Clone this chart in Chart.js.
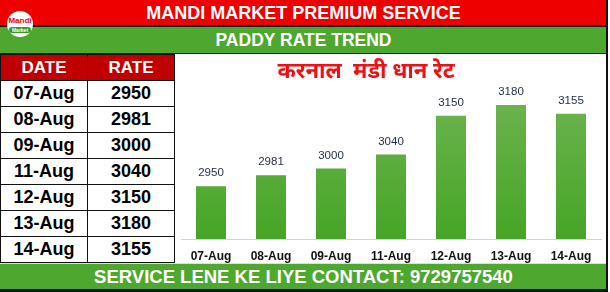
<!DOCTYPE html>
<html>
<head>
<meta charset="utf-8">
<script src="https://cdn.jsdelivr.net/npm/chart.js@4.4.1/dist/chart.umd.min.js"></script>
<style>
  html, body { margin:0; padding:0; background:#fff; }
  body { width:610px; height:292px; position:relative; overflow:hidden; font-family: Arial, "Liberation Sans", sans-serif; font-weight:bold; }
  .band { position:absolute; left:0; width:607px; color:#fff; text-align:center; font-size:18px; }
  #top  { top:0; height:25px; line-height:26px; background:#ee0000; border-bottom:2px solid #111; }
  #sub  { top:27px; height:26px; line-height:26px; background:#4ea72e; border-bottom:1px solid #222; font-size:17.5px; }
  #foot { top:263px; height:25px; line-height:25px; background:#4ea72e; border-top:1px solid #c6efce; border-bottom:3px solid #111; font-size:18.5px; }
  #logo { position:absolute; left:7px; top:11px; width:26px; height:26px; border-radius:50%; background:#fff; z-index:2;
          font-size:8px; color:#e00; text-align:center; line-height:9px; }
  #logo span { display:inline-block; margin-top:1px; background:#3a9a2a; color:#fff; font-size:5px; line-height:6px; padding:0 3px; border-radius:3px; }
  #logo b { display:block; margin-top:5px; }
  #rborder { position:absolute; left:606px; top:0; width:2px; height:292px; background:#111; }
  table { position:absolute; left:0; top:54px; border-collapse:collapse; }
  td, th { width:86px; height:25px; border:1px solid #111; text-align:center; padding:0; }
  th { background:#c00000; color:#fff; font-size:17px; }
  td { color:#000; font-size:18px; }
  #wrap { position:absolute; left:175px; top:54px; width:431px; height:209px; }
  #ctitle { position:absolute; left:216px; width:300px; top:58px; text-align:center; color:#ee1111; font-size:22px; line-height:30px;
            font-family: "Noto Sans Devanagari", "Lohit Devanagari", Mangal, sans-serif; font-weight:bold; white-space:pre; }
</style>
</head>
<body>
<div class="band" id="top">MANDI MARKET PREMIUM SERVICE</div>
<div class="band" id="sub">PADDY RATE TREND</div>
<div id="logo"><b>Mandi</b><span>Market</span></div>
<table id="rates"><thead><tr><th>DATE</th><th>RATE</th></tr></thead><tbody></tbody></table>
<div id="wrap"><canvas id="cv"></canvas></div>
<div id="ctitle"></div>
<div class="band" id="foot">SERVICE LENE KE LIYE CONTACT: 9729757540</div>
<div id="rborder"></div>
<script>
// ---------- Données ----------
const dates = ['07-Aug','08-Aug','09-Aug','11-Aug','12-Aug','13-Aug','14-Aug'];
const rates = [2950, 2981, 3000, 3040, 3150, 3180, 3155];
const chartTitle = 'करनाल  मंडी धान रेट';
const yMin = 2800, yMax = 3200;

document.getElementById('ctitle').textContent = chartTitle;

// ---------- Tableau ----------
const tbody = document.querySelector('#rates tbody');
dates.forEach((d, i) => {
  const tr = document.createElement('tr');
  tr.innerHTML = `<td>${d}</td><td>${rates[i]}</td>`;
  tbody.appendChild(tr);
});

// ---------- Étiquettes au-dessus des barres ----------
const valueLabels = {
  id: 'valueLabels',
  afterDatasetsDraw(chart) {
    const ctx = chart.ctx;
    const meta = chart.getDatasetMeta(0);
    ctx.save();
    ctx.font = '11.5px Arial';
    ctx.fillStyle = '#1f2a44';
    ctx.textAlign = 'center';
    ctx.textBaseline = 'middle';
    meta.data.forEach((bar, i) => ctx.fillText(String(rates[i]), bar.x, bar.y - 13));
    ctx.restore();
  }
};

// ---------- Graphique ----------
new Chart(document.getElementById('cv'), {
  type: 'bar',
  data: {
    labels: dates,
    datasets: [{
      data: rates,
      backgroundColor: (c) => {
        const a = c.chart.chartArea;
        if (!a) return '#4ea72e';
        const g = c.chart.ctx.createLinearGradient(0, a.top, 0, a.bottom);
        g.addColorStop(0, '#6cb34f');
        g.addColorStop(1, '#46a526');
        return g;
      },
      barPercentage: 0.5,
      categoryPercentage: 1
    }]
  },
  options: {
    responsive: true, maintainAspectRatio: false, animation: false,
    layout: { padding: { left: 6, right: 5, top: 44, bottom: 0 } },
    plugins: {
      legend: { display: false },
      tooltip: { enabled: false },
      title: { display: false }
    },
    scales: {
      y: { display: false, min: yMin, max: yMax },
      x: {
        afterFit: (s) => { s.height = 24; },
        grid: { display: false, drawTicks: false, tickLength: 0 },
        border: { color: '#cfd6e3', width: 1 },
        ticks: { color: '#111', font: { size: 12, weight: 'bold', family: 'Arial' }, padding: 10, maxRotation: 0 }
      }
    }
  },
  plugins: [valueLabels]
});
</script>
</body>
</html>
